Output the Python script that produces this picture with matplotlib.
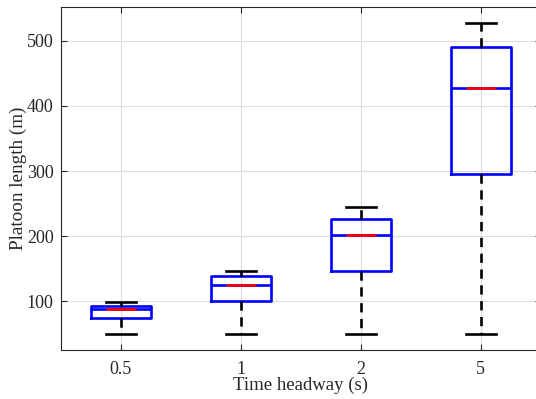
import matplotlib
matplotlib.use("Agg")
import matplotlib.pyplot as plt

categories = ["0.5", "1", "2", "5"]
q1 = [74, 100, 147, 296]
med = [88, 125, 202, 427]
q3 = [93, 138, 227, 491]
whislo = [50, 50, 50, 50]
whishi = [98, 147, 245, 528]
yticks = [100, 200, 300, 400, 500]

plt.rcParams['font.family'] = ['Liberation Serif', 'DejaVu Serif']
plt.rcParams['font.size'] = 13

fig = plt.figure(figsize=(5.36, 3.99), dpi=100)
ax = fig.add_axes([60.5/536, (399-350)/399, 480/536, 343/399])

pos = list(range(1, len(categories) + 1))
stats = []
for i, c in enumerate(categories):
    stats.append(dict(label=c, q1=q1[i], med=med[i], q3=q3[i],
                      whislo=whislo[i], whishi=whishi[i], fliers=[]))

lw = 1.9
ax.bxp(stats, positions=pos, widths=0.5, showfliers=False,
       boxprops=dict(color='blue', linewidth=lw),
       medianprops=dict(color='blue', linewidth=lw),
       whiskerprops=dict(color='black', linewidth=lw, linestyle=(0, (3.5, 2.5))),
       capprops=dict(color='black', linewidth=lw),
       capwidths=0.25, zorder=3)
ax.hlines(med, [p - 0.125 for p in pos], [p + 0.125 for p in pos],
          colors='red', linewidth=lw, zorder=4)

ax.set_xlim(0.5, 4.5)
ax.set_ylim(25, 552)
ax.set_yticks(yticks)
ax.set_xticks(pos)
ax.set_xticklabels(categories)
ax.grid(True, color='#dcdcdc', linewidth=0.8, zorder=0)
ax.set_axisbelow(True)
ax.tick_params(direction='in', top=True, right=True, length=4, color='#262626',
               labelcolor='#262626', labelsize=13)
ax.tick_params(axis='x', pad=8)
ax.tick_params(axis='y', pad=5)
for s in ax.spines.values():
    s.set_color('#262626')
    s.set_linewidth(0.8)
ax.set_xlabel("Time headway (s)", color='#262626', fontsize=13.5, labelpad=-1)
ax.set_ylabel("Platoon length (m)", color='#262626', fontsize=13.8, labelpad=-0.5)

fig.savefig("out.png", dpi=100)
